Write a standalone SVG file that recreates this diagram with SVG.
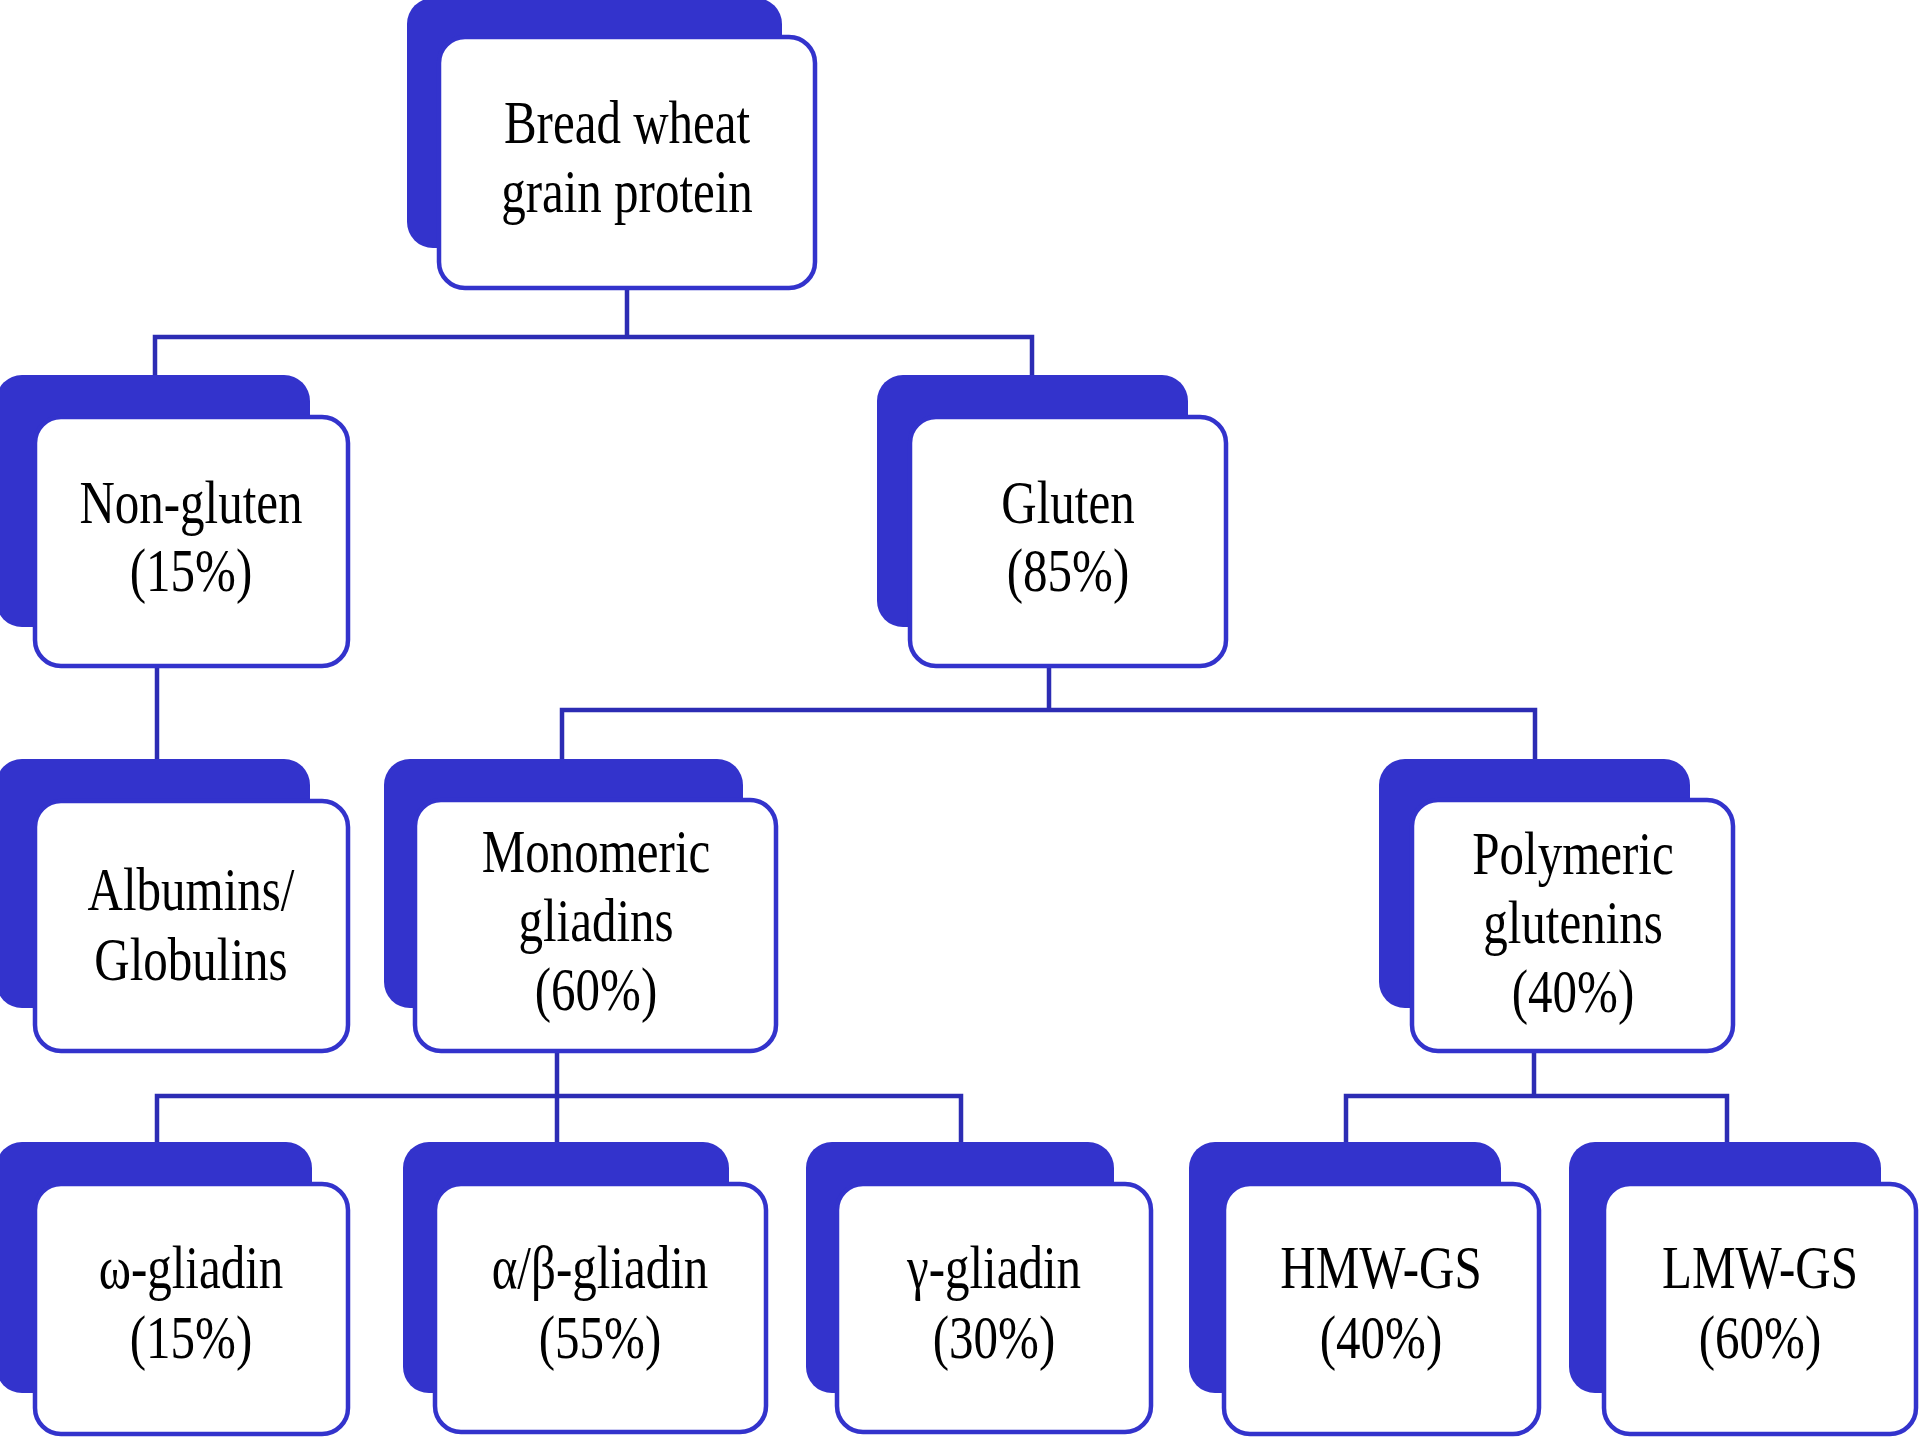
<svg xmlns="http://www.w3.org/2000/svg" width="1920" height="1440" viewBox="0 0 1920 1440">
<style>
.back{fill:#3333cc;stroke:none}
.front{fill:#ffffff;stroke:#3333cc;stroke-width:4.5}
.conn{fill:none;stroke:#2c2cb4;stroke-width:4.5;stroke-linecap:square}
.lbl{font-family:"Liberation Serif","Times New Roman",serif;font-size:49px;fill:#000;text-anchor:middle}
</style>
<rect width="1920" height="1440" fill="#ffffff"/>
<g id="connectors">
<path class="conn" d="M627,290 V337 M155,337 H1032 M155,337 V375 M1032,337 V375"/>
<path class="conn" d="M157,668 V759"/>
<path class="conn" d="M1049,668 V710 M562,710 H1535 M562,710 V759 M1535,710 V759"/>
<path class="conn" d="M557,1053 V1096 M157,1096 H961 M157,1096 V1142 M557,1096 V1142 M961,1096 V1142"/>
<path class="conn" d="M1534,1053 V1096 M1346,1096 H1727 M1346,1096 V1142 M1727,1096 V1142"/>
</g>
<g id="node-bread-wheat">
<rect class="back" x="407" y="-2" width="375" height="250" rx="26"/>
<rect class="front" x="439" y="37" width="376" height="251" rx="26"/>
<text class="lbl" transform="translate(627,143) scale(1,1.27)"><tspan x="0" dy="0">Bread wheat</tspan><tspan x="0" dy="54.3">grain protein</tspan></text>
</g>
<g id="node-non-gluten">
<rect class="back" x="-4" y="375" width="314" height="252" rx="26"/>
<rect class="front" x="35" y="417" width="313" height="249" rx="26"/>
<text class="lbl" transform="translate(191,523) scale(1,1.27)"><tspan x="0" dy="0">Non-gluten</tspan><tspan x="0" dy="53.5">(15%)</tspan></text>
</g>
<g id="node-gluten">
<rect class="back" x="877" y="375" width="311" height="252" rx="26"/>
<rect class="front" x="910" y="417" width="316" height="249" rx="26"/>
<text class="lbl" transform="translate(1068,523) scale(1,1.27)"><tspan x="0" dy="0">Gluten</tspan><tspan x="0" dy="53.5">(85%)</tspan></text>
</g>
<g id="node-albumins">
<rect class="back" x="-4" y="759" width="314" height="249" rx="26"/>
<rect class="front" x="35" y="801" width="313" height="250" rx="26"/>
<text class="lbl" transform="translate(191,910) scale(1,1.27)"><tspan x="0" dy="0">Albumins/</tspan><tspan x="0" dy="55">Globulins</tspan></text>
</g>
<g id="node-monomeric">
<rect class="back" x="384" y="759" width="359" height="249" rx="26"/>
<rect class="front" x="415" y="800" width="361" height="251" rx="26"/>
<text class="lbl" transform="translate(596,872) scale(1,1.27)"><tspan x="0" dy="0">Monomeric</tspan><tspan x="0" dy="54.3">gliadins</tspan><tspan x="0" dy="54.3">(60%)</tspan></text>
</g>
<g id="node-polymeric">
<rect class="back" x="1379" y="759" width="311" height="249" rx="26"/>
<rect class="front" x="1412" y="800" width="321" height="251" rx="26"/>
<text class="lbl" transform="translate(1573,874) scale(1,1.27)"><tspan x="0" dy="0">Polymeric</tspan><tspan x="0" dy="54.3">glutenins</tspan><tspan x="0" dy="54.3">(40%)</tspan></text>
</g>
<g id="node-omega">
<rect class="back" x="-4" y="1142" width="316" height="251" rx="26"/>
<rect class="front" x="35" y="1184" width="313" height="250" rx="26"/>
<text class="lbl" transform="translate(191,1288) scale(1,1.27)"><tspan x="0" dy="0">ω-gliadin</tspan><tspan x="0" dy="55">(15%)</tspan></text>
</g>
<g id="node-alpha-beta">
<rect class="back" x="403" y="1142" width="326" height="251" rx="26"/>
<rect class="front" x="435" y="1184" width="331" height="248" rx="26"/>
<text class="lbl" transform="translate(600,1288) scale(1,1.27)"><tspan x="0" dy="0">α/β-gliadin</tspan><tspan x="0" dy="55">(55%)</tspan></text>
</g>
<g id="node-gamma">
<rect class="back" x="806" y="1142" width="308" height="251" rx="26"/>
<rect class="front" x="837" y="1184" width="314" height="248" rx="26"/>
<text class="lbl" transform="translate(994,1288) scale(1,1.27)"><tspan x="0" dy="0">γ-gliadin</tspan><tspan x="0" dy="55">(30%)</tspan></text>
</g>
<g id="node-hmw">
<rect class="back" x="1189" y="1142" width="312" height="251" rx="26"/>
<rect class="front" x="1224" y="1184" width="315" height="250" rx="26"/>
<text class="lbl" transform="translate(1381,1288) scale(1,1.27)"><tspan x="0" dy="0">HMW-GS</tspan><tspan x="0" dy="55">(40%)</tspan></text>
</g>
<g id="node-lmw">
<rect class="back" x="1569" y="1142" width="312" height="251" rx="26"/>
<rect class="front" x="1604" y="1184" width="312" height="250" rx="26"/>
<text class="lbl" transform="translate(1760,1288) scale(1,1.27)"><tspan x="0" dy="0">LMW-GS</tspan><tspan x="0" dy="55">(60%)</tspan></text>
</g>
</svg>
